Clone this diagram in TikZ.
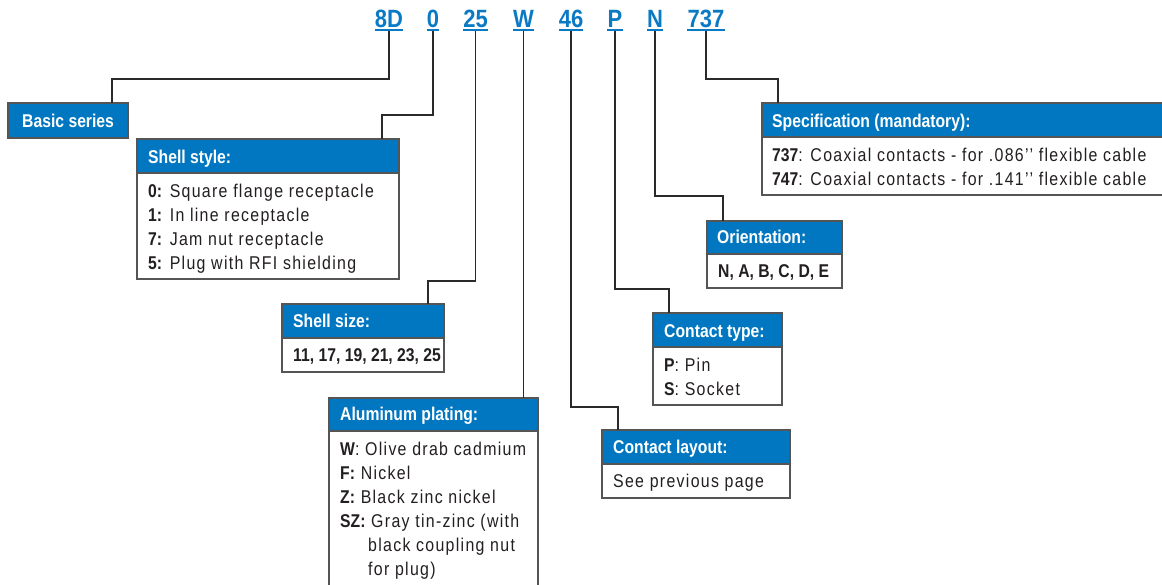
\documentclass[tikz,border=0pt]{standalone}
\usepackage{fontspec}
\setmainfont{Liberation Sans}
\newfontfamily\hdf[FakeStretch=0.85]{Liberation Sans Bold}
\newfontfamily\cdf[FakeStretch=0.88]{Liberation Sans Bold}
\newfontfamily\bdf[FakeStretch=0.86,LetterSpace=7]{Liberation Sans}
\definecolor{hblue}{HTML}{0077C0}
\definecolor{cblue}{HTML}{0A7AC4}
\definecolor{bordergray}{HTML}{555555}
\definecolor{lineblack}{HTML}{2A2A2A}
\definecolor{txtgray}{HTML}{231F20}
\newcommand\bp[1]{{\hdf #1}}
\tikzset{
  hdr/.style={draw=bordergray, fill=hblue, line width=1.2pt, inner sep=0pt, outer sep=0pt, anchor=north west},
  bdy/.style={draw=bordergray, fill=white, line width=1.2pt, inner sep=0pt, outer sep=0pt, anchor=north west},
  htxt/.style={anchor=base west, inner sep=0pt, text=white, font=\hdf\fontsize{18.5}{24}\selectfont},
  btxt/.style={anchor=base west, inner sep=0pt, text=txtgray, font=\bdf\fontsize{18.5}{24}\selectfont},
  code/.style={anchor=base, inner sep=0pt, text=cblue, font=\cdf\fontsize{25}{30}\selectfont},
  uline/.style={draw=cblue, line width=2pt},
  conn/.style={draw=lineblack, line width=1.2pt},
}
\begin{document}
\begin{tikzpicture}[x=1pt,y=-1pt]
\useasboundingbox (0,0) rectangle (1162,584);
% codes
\node[code] (c8D) at (389,27) {8D};
\node[code] (c0) at (433,27) {0};
\node[code] (c25) at (475.5,27) {25};
\node[code] (cW) at (523.5,27) {W};
\node[code] (c46) at (571,27) {46};
\node[code] (cP) at (615,27) {P};
\node[code] (cN) at (655,27) {N};
\node[code] (c737) at (706,27) {737};
\foreach \c in {c8D,c0,c25,cW,c46,cP,cN,c737}{
  \draw[uline] ([yshift=-2.7pt]\c.base west) -- ([yshift=-2.7pt]\c.base east);
}
% boxes
\node[hdr, minimum width=120pt, minimum height=35pt] (bsH) at (8,103) {};
\node[hdr, minimum width=262pt, minimum height=34pt] (ssH) at (137,139) {};
\node[bdy, minimum width=262pt, minimum height=106pt] (ssB) at (137,173) {};
\node[hdr, minimum width=162pt, minimum height=34pt] (szH) at (282,304) {};
\node[bdy, minimum width=162pt, minimum height=34pt] (szB) at (282,338) {};
\node[hdr, minimum width=209pt, minimum height=33pt] (alH) at (329,398) {};
\node[bdy, minimum width=209pt, minimum height=162pt] (alB) at (329,431) {};
\node[hdr, minimum width=135pt, minimum height=33pt] (orH) at (707,221) {};
\node[bdy, minimum width=135pt, minimum height=34pt] (orB) at (707,254) {};
\node[hdr, minimum width=129pt, minimum height=34pt] (ctH) at (653,313) {};
\node[bdy, minimum width=129pt, minimum height=58pt] (ctB) at (653,347) {};
\node[hdr, minimum width=188pt, minimum height=34pt] (clH) at (602,430) {};
\node[bdy, minimum width=188pt, minimum height=34pt] (clB) at (602,464) {};
\node[hdr, minimum width=404pt, minimum height=34pt] (spH) at (762,103) {};
\node[bdy, minimum width=404pt, minimum height=58pt] (spB) at (762,137) {};
% connectors
\draw[conn] ([yshift=-4pt]c8D.base) -- ++(0,48) -| ([xshift=104pt]bsH.north west);
\draw[conn] ([yshift=-4pt]c0.base) -- ++(0,84) -| ([xshift=245pt]ssH.north west);
\draw[conn] ([yshift=-4pt]c25.base) -- ++(0,250) -| ([xshift=146pt]szH.north west);
\draw[conn] ([yshift=-4pt]cW.base) -- (cW.base |- alH.north);
\draw[conn] ([yshift=-4pt]c46.base) -- ++(0,376) -| ([xshift=16pt]clH.north west);
\draw[conn] ([yshift=-4pt]cP.base) -- ++(0,258) -| ([xshift=16pt]ctH.north west);
\draw[conn] ([yshift=-4pt]cN.base) -- ++(0,165) -| ([xshift=16pt]orH.north west);
\draw[conn] ([yshift=-4pt]c737.base) -- ++(0,48) -| ([xshift=16pt]spH.north west);
% header texts
\node[htxt] (bsT) at (22,127) {Basic series};
\node[htxt] (ssT) at (148,163) {Shell style:};
\node[htxt] (szT) at (293,327) {Shell size:};
\node[htxt] (alT) at (340,420.5) {Aluminum plating:};
\node[htxt] (orT) at (717,243) {Orientation:};
\node[htxt] (ctT) at (664,337) {Contact type:};
\node[htxt] (clT) at (613,453) {Contact layout:};
\node[htxt] (spT) at (772,127) {Specification (mandatory):};
% body texts
\node[btxt] (ss1) at (148,197) {\bp{0:} Square flange receptacle};
\node[btxt] (ss2) at (148,221) {\bp{1:} In line receptacle};
\node[btxt] (ss3) at (148,245) {\bp{7:} Jam nut receptacle};
\node[btxt] (ss4) at (148,269) {\bp{5:} Plug with RFI shielding};
\node[btxt] (sz1) at (293,361) {\bp{11, 17, 19, 21, 23, 25}};
\node[btxt] (al1) at (340,455) {\bp{W}: Olive drab cadmium};
\node[btxt] (al2) at (340,479) {\bp{F:} Nickel};
\node[btxt] (al3) at (340,503) {\bp{Z:} Black zinc nickel};
\node[btxt] (al4) at (340,527) {\bp{SZ:} Gray tin-zinc (with};
\node[btxt] (al5) at (368,551) {black coupling nut};
\node[btxt] (al6) at (368,575) {for plug)};
\node[btxt] (or1) at (718,277) {\bp{N, A, B, C, D, E}};
\node[btxt] (ct1) at (664,371) {\bp{P}: Pin};
\node[btxt] (ct2) at (664,395) {\bp{S}: Socket};
\node[btxt] (cl1) at (613,487) {See previous page};
\node[btxt] (sp1) at (772,161) {\bp{737}: Coaxial contacts - for .086’’ flexible cable};
\node[btxt] (sp2) at (772,185) {\bp{747}: Coaxial contacts - for .141’’ flexible cable};
\end{tikzpicture}
\end{document}
